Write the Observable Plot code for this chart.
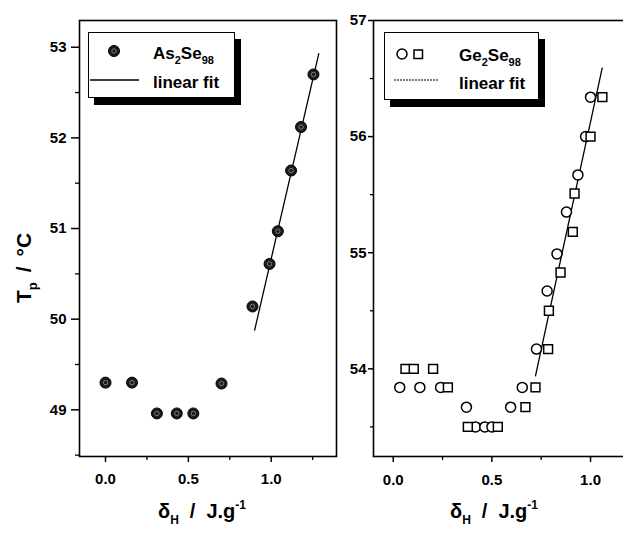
<!DOCTYPE html>
<html><head><meta charset="utf-8">
<script src="https://cdn.jsdelivr.net/npm/d3@7"></script>
<script src="https://cdn.jsdelivr.net/npm/@observablehq/plot@0.6"></script>
<style>
body{margin:0;background:#fff}
#wrap{position:relative;width:623px;height:536px;overflow:hidden;font-family:"Liberation Sans",Arial,sans-serif;font-weight:bold;background:#fff}
.panel{position:absolute;top:0}
.legend{position:absolute;background:#fff;border:1.5px solid #000;box-shadow:6px 7px 0 #000;box-sizing:border-box}
.legend svg, #labels{position:absolute;left:0;top:0;overflow:visible}
</style></head>
<body><div id="wrap"></div>
<script>
// ---- data: left panel (As2Se98) ----
const asX = [0, 0.16, 0.31, 0.43, 0.53, 0.70, 0.887, 0.99, 1.04, 1.12, 1.18, 1.255];
const asY = [49.30, 49.30, 48.96, 48.96, 48.96, 49.29, 50.14, 50.61, 50.97, 51.64, 52.12, 52.70];
const asFitX = [0.90, 1.287];
const asFitY = [49.88, 52.93];
// ---- data: right panel (Ge2Se98) ----
const geCircX = [0.033, 0.135, 0.240, 0.371, 0.417, 0.464, 0.50, 0.595, 0.654, 0.726, 0.78, 0.83, 0.878, 0.936, 0.975, 1.0];
const geCircY = [53.84, 53.84, 53.84, 53.67, 53.50, 53.50, 53.50, 53.67, 53.84, 54.17, 54.67, 54.99, 55.35, 55.67, 56.0, 56.34];
const geSqX = [0.062, 0.104, 0.202, 0.277, 0.378, 0.53, 0.670, 0.721, 0.785, 0.789, 0.848, 0.91, 0.919, 1.0, 1.06];
const geSqY = [54.0, 54.0, 54.0, 53.84, 53.50, 53.50, 53.67, 53.84, 54.17, 54.50, 54.83, 55.18, 55.51, 56.0, 56.34];
const geFitX = [0.721, 1.059];
const geFitY = [53.94, 56.59];
// ---- ticks ----
const xTicks = [0, 0.5, 1.0];
const xMinorLeft = [0.25, 0.75, 1.25];
const xMinorRight = [0.25, 0.75];
const yTicksLeft = [49, 50, 51, 52, 53];
const yMinorLeft = [48.5, 49.5, 50.5, 51.5, 52.5];
const yTicksRight = [54, 55, 56, 57];
const yMinorRight = [53.5, 54.5, 55.5, 56.5];

const zip = (xs, ys) => xs.map((x, i) => ({x, y: ys[i]}));
const asData = zip(asX, asY), asFit = zip(asFitX, asFitY);
const geC = zip(geCircX, geCircY), geS = zip(geSqX, geSqY), geFit = zip(geFitX, geFitY);

const font = "'Liberation Sans', Arial, sans-serif";
const fmt = d3.format(".1f");
const fmtY = d3.format("d");
const wrap = document.getElementById("wrap");

const left = Plot.plot({
  width: 340, height: 536,
  marginLeft: 79, marginRight: 4, marginTop: 20, marginBottom: 80,
  style: {fontFamily: font, fontSize: "15px", fontWeight: "bold", background: "transparent", overflow: "visible"},
  x: {domain: [-0.157, 1.394]},
  y: {domain: [48.485, 53.295]},
  marks: [
    Plot.axisY(yMinorLeft, {tickSize: 4, tickFormat: () => "", strokeWidth: 1.3, label: null}),
    Plot.axisY(yTicksLeft, {tickSize: 8, tickPadding: 5, tickFormat: fmtY, strokeWidth: 1.5, label: null}),
    Plot.axisX(xMinorLeft, {tickSize: 4, tickFormat: () => "", strokeWidth: 1.3, label: null}),
    Plot.axisX(xTicks, {tickSize: 6, tickPadding: 11, tickFormat: fmt, strokeWidth: 1.5, label: null}),
    Plot.frame({strokeWidth: 1.6}),
    Plot.line(asFit, {x: "x", y: "y", stroke: "#000", strokeWidth: 1.3}),
    Plot.dot(asData, {x: "x", y: "y", r: 5.5, fill: "#1a1a1a", stroke: "#000", strokeWidth: 1}),
    Plot.dot(asData, {x: "x", y: "y", r: 2.2, fill: "none", stroke: "#888", strokeWidth: 0.9})
  ]
});
left.classList.add("panel"); left.style.left = "0px";
wrap.appendChild(left);

const right = Plot.plot({
  width: 300, height: 536,
  marginLeft: 33, marginRight: 10.5, marginTop: 20, marginBottom: 80,
  style: {fontFamily: font, fontSize: "15px", fontWeight: "bold", background: "transparent", overflow: "visible"},
  x: {domain: [-0.1, 1.2]},
  y: {domain: [53.245, 57]},
  marks: [
    Plot.axisY(yMinorRight, {tickSize: 3, tickFormat: () => "", strokeWidth: 1.3, label: null}),
    Plot.axisY(yTicksRight, {tickSize: 5, tickPadding: 2, tickFormat: fmtY, strokeWidth: 1.5, label: null}),
    Plot.axisX(xMinorRight, {tickSize: 4, tickFormat: () => "", strokeWidth: 1.3, label: null}),
    Plot.axisX(xTicks, {tickSize: 6, tickPadding: 12, tickFormat: fmt, strokeWidth: 1.5, label: null}),
    Plot.frame({strokeWidth: 1.6}),
    Plot.line(geFit, {x: "x", y: "y", stroke: "#000", strokeWidth: 1.3}),
    Plot.dot(geC, {x: "x", y: "y", r: 5, fill: "#fff", stroke: "#000", strokeWidth: 1.5}),
    Plot.dot(geS, {x: "x", y: "y", r: 5, symbol: "square", fill: "#fff", stroke: "#000", strokeWidth: 1.5})
  ]
});
right.classList.add("panel"); right.style.left = "340px";
wrap.appendChild(right);

// ---- legends ----
const NS = "http://www.w3.org/2000/svg";
function legend(left, top, w, h, html) {
  const d = document.createElement("div");
  d.className = "legend";
  Object.assign(d.style, {left: left + "px", top: top + "px", width: w + "px", height: h + "px"});
  d.innerHTML = `<svg width="${w}" height="${h}" style="font-family:${font};font-weight:bold;font-size:17px">${html}</svg>`;
  wrap.appendChild(d);
}
legend(88, 32, 147, 66,
  `<circle cx="25" cy="18" r="5.5" fill="#1a1a1a" stroke="#000"/>
   <circle cx="25" cy="18" r="2.2" fill="none" stroke="#888" stroke-width="0.9"/>
   <text x="64" y="26">As<tspan font-size="11" dy="5">2</tspan><tspan dy="-5">Se</tspan><tspan font-size="11" dy="5">98</tspan></text>
   <line x1="1" x2="50" y1="47" y2="47" stroke="#000" stroke-width="1.3"/>
   <text x="64" y="55">linear fit</text>`);
legend(384, 32, 155, 68,
  `<circle cx="17" cy="21" r="5" fill="#fff" stroke="#000" stroke-width="1.5"/>
   <rect x="29" y="17" width="8.5" height="8.5" fill="#fff" stroke="#000" stroke-width="1.5"/>
   <text x="74" y="28">Ge<tspan font-size="11" dy="5">2</tspan><tspan dy="-5">Se</tspan><tspan font-size="11" dy="5">98</tspan></text>
   <line x1="9" x2="54" y1="47" y2="47" stroke="#000" stroke-width="1.2" stroke-dasharray="2 1"/>
   <text x="74" y="56">linear fit</text>`);

// ---- axis titles ----
const lab = document.createElementNS(NS, "svg");
lab.setAttribute("id", "labels");
lab.setAttribute("width", 623); lab.setAttribute("height", 536);
lab.innerHTML = `
 <g style="font-family:${font};font-weight:bold" fill="#000">
  <text transform="translate(31,303) rotate(-90)" font-size="21">T<tspan font-size="13" dy="6">p</tspan><tspan dy="-6" dx="10">/</tspan><tspan dx="10">°C</tspan></text>
  <text x="158" y="518" font-size="20">δ<tspan font-size="12" dy="6">H</tspan><tspan dy="-6" dx="11">/</tspan><tspan dx="11">J.g</tspan><tspan font-size="12" dy="-9">-1</tspan></text>
  <text x="450" y="518" font-size="20">δ<tspan font-size="12" dy="6">H</tspan><tspan dy="-6" dx="11">/</tspan><tspan dx="11">J.g</tspan><tspan font-size="12" dy="-9">-1</tspan></text>
 </g>`;
wrap.appendChild(lab);
</script>
</body></html>
